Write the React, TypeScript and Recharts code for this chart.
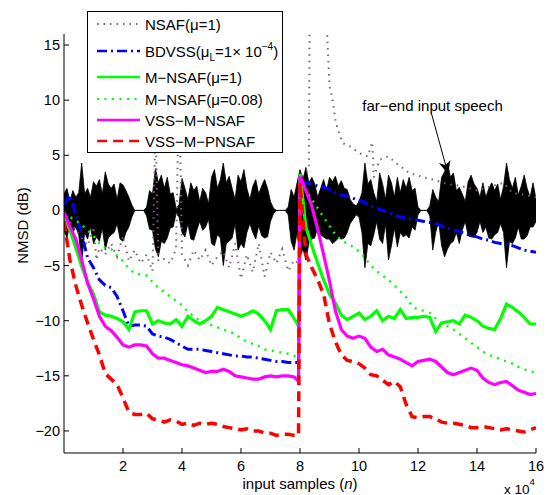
import React from "react"
import { ComposedChart, Line, Area, XAxis, YAxis, ReferenceLine, Legend } from "recharts"

const FONT = '"Liberation Sans", Arial, Helvetica, sans-serif'

// input samples, in units of 10^4 (shared by the adaptive filter curves)
const n = [
  0, 0.2, 0.4, 0.6, 0.8, 1, 1.2, 1.4, 1.6, 1.8, 2, 2.2, 2.4, 2.6, 2.8, 3, 3.2, 3.4, 3.6, 3.8,
  4, 4.2, 4.4, 4.6, 4.8, 5, 5.2, 5.4, 5.6, 5.8, 6, 6.2, 6.4, 6.6, 6.8, 7, 7.2, 7.4, 7.6, 7.8,
  7.95,
  8, 8.2, 8.4, 8.6, 8.8, 9, 9.2, 9.4, 9.6, 9.8, 10, 10.2, 10.4, 10.6, 10.8, 11, 11.2, 11.4, 11.6, 11.8,
  12, 12.2, 12.4, 12.6, 12.8, 13, 13.2, 13.4, 13.6, 13.8, 14, 14.2, 14.4, 14.6, 14.8, 15, 15.2, 15.4, 15.6, 15.8,
  16,
]

// NMSD (dB)
const bdvss = [
  0.5, 1.4, -0.3, -2.2, -4.3, -5.2, -6.3, -6.8, -7.0, -7.8, -9.1, -10.5, -10.4, -10.4, -10.5, -11.2, -11.4, -11.5, -11.7, -12.0,
  -12.3, -12.6, -12.6, -12.6, -12.7, -12.8, -12.9, -13.0, -13.1, -13.2, -13.2, -13.3, -13.3, -13.4, -13.5, -13.6, -13.7, -13.7, -13.8, -13.8,
  -13.8,
  2.6, 2.5, 2.4, 2.2, 2.1, 1.9, 1.6, 1.4, 1.3, 1.1, 0.9, 0.7, 0.4, 0.2, 0.0, -0.2, -0.4, -0.6, -0.7, -0.8,
  -0.9, -1.0, -1.1, -1.2, -1.4, -1.6, -1.8, -1.9, -2.1, -2.3, -2.4, -2.6, -2.7, -2.9, -3.0, -3.1, -3.2, -3.4, -3.6, -3.7,
  -3.8,
]
const mnsaf = [
  -0.5, -1.8, -3.4, -5.1, -6.5, -7.6, -9.2, -9.5, -9.6, -9.8, -10.1, -10.8, -9.2, -9.1, -9.1, -10.3, -10.0, -10.2, -10.3, -9.9,
  -10.5, -9.6, -10.0, -10.3, -10.0, -9.6, -8.8, -9.0, -9.2, -9.4, -9.6, -9.4, -9.1, -9.4, -10.0, -10.8, -9.1, -9.0, -9.0, -9.8,
  -10.5,
  3.3, -1.5, -3.2, -4.8, -6.3, -7.6, -8.4, -9.5, -9.9, -9.6, -9.3, -9.9, -9.6, -9.1, -10.0, -9.6, -9.8, -9.0, -9.8, -9.7,
  -9.7, -9.6, -9.7, -11.0, -10.2, -10.1, -10.0, -10.3, -9.5, -9.7, -10.0, -10.5, -10.7, -10.8, -9.8, -8.5, -8.8, -9.2, -9.7, -10.3,
  -10.3,
]
const mnsafSlow = [
  -0.3, -0.6, -0.9, -1.3, -1.8, -2.3, -3.0, -3.4, -3.5, -4.1, -4.6, -5.3, -5.7, -5.8, -5.9, -6.5, -7.0, -7.4, -7.8, -8.2,
  -8.6, -9.2, -9.6, -10.0, -10.3, -10.4, -10.6, -10.8, -11.0, -11.2, -11.6, -11.9, -12.1, -12.3, -12.6, -12.7, -12.8, -12.9, -13.0, -13.2,
  -13.4,
  2.5, 1.8, 1.0, 0.2, -0.6, -1.4, -2.2, -2.7, -3.0, -3.3, -3.7, -4.3, -5.0, -5.5, -5.9, -6.3, -6.8, -7.3, -7.9, -8.7,
  -9.0, -9.1, -9.3, -9.8, -10.3, -10.5, -10.8, -11.2, -11.6, -12.0, -12.4, -12.8, -13.1, -13.3, -13.5, -13.7, -13.9, -14.2, -14.4, -14.6,
  -14.7,
]
const vssNsaf = [
  -0.2, -1.5, -2.6, -4.5, -6.6, -8.0, -9.6, -10.5, -10.9, -11.5, -12.2, -12.4, -12.2, -12.2, -12.3, -13.0, -13.4, -13.4, -13.6, -13.8,
  -14.0, -14.1, -14.3, -14.5, -14.7, -14.6, -14.6, -14.4, -14.6, -15.0, -15.1, -15.2, -15.3, -15.3, -15.1, -15.0, -15.1, -15.0, -15.0, -15.1,
  -15.5,
  3.1, 1.8, 0.4, -1.7, -4.0, -6.4, -9.1, -10.8, -11.4, -11.6, -11.4, -11.6, -12.4, -12.8, -12.6, -13.1, -13.3, -13.5, -13.8, -14.1,
  -13.7, -13.6, -13.5, -13.7, -14.2, -14.7, -14.9, -14.7, -14.5, -14.3, -14.5, -15.2, -15.6, -15.8, -15.6, -15.5, -15.9, -16.3, -16.5, -16.7,
  -16.6,
]
const vssPnsaf = [
  -1.0, -4.5, -6.8, -8.6, -10.2, -11.7, -13.1, -14.8, -15.3, -15.8, -17.0, -18.3, -18.5, -18.5, -18.4, -18.9, -19.0, -19.2, -19.0, -19.1,
  -19.4, -19.3, -19.5, -19.3, -19.4, -19.3, -19.4, -19.6, -19.7, -19.8, -19.9, -19.8, -20.0, -20.0, -20.2, -20.2, -20.4, -20.3, -20.3, -20.4,
  -20.4,
  2.5, -4.0, -5.2, -6.3, -7.6, -10.3, -11.9, -13.1, -13.6, -13.7, -13.9, -14.3, -14.9, -15.0, -15.4, -15.8, -15.5, -16.0, -17.6, -18.7,
  -18.8, -18.7, -18.7, -18.9, -19.2, -19.3, -19.3, -19.4, -19.5, -19.7, -19.7, -19.6, -19.7, -19.8, -19.9, -19.8, -19.9, -20.0, -20.1, -19.9,
  -19.7,
]

// plain NSAF has its own sample points (it diverges after the echo path change)
const nsafN = [
  0, 0.2, 0.4, 0.6, 0.8, 1, 1.1, 1.2, 1.4, 1.6, 1.8, 2, 2.2, 2.4, 2.6, 2.8, 3, 3.1, 3.2, 3.4, 3.6, 3.8, 3.9,
  4, 4.2, 4.4, 4.6, 4.8, 5, 5.2, 5.4, 5.6, 5.8, 6, 6.2, 6.4, 6.6, 6.8, 7, 7.2, 7.4, 7.6, 7.8, 7.95,
  8, 8.2, 8.3, 8.35, 8.6, 8.85, 9, 9.1, 9.2, 9.3, 9.45, 9.7, 10, 10.3, 10.45, 10.5, 10.7, 11, 11.3, 11.7,
  12.2, 12.5, 13, 13.5, 14, 14.5, 14.9, 15.2, 15.6, 16,
]
const nsaf = [
  0, -1.0, -1.8, -2.5, -3.2, -1.5, -4.5, -3.4, -4.0, -3.0, -4.2, -2.3, -4.6, -3.6, -4.8, -4.0, -5.5, 8.0, -4.6, -4.4, -4.8, -3.5, 12.0,
  -4.0, -5.0, -3.6, -4.5, -3.6, -5.0, -4.2, -3.7, -5.2, -3.0, -6.2, -4.0, -5.6, -3.0, -6.0, -3.8, -4.8, -3.5, -5.5, -4.5, -4.8,
  3.0, 3.4, 3.8, 30, 40, 20, 11.3, 10.1, 8.2, 7.2, 6.1, 5.8, 5.2, 4.9, 6.2, 3.0, 4.6, 4.9, 4.2, 3.4,
  3.0, 2.8, 2.4, 2.2, 1.8, 2.2, 2.5, 1.6, 1.4, 1.2,
]

// far-end speech envelope, every 0.1 x 10^4 samples
const speechHi = [
  1.5, 2.0, 0.8, 1.8, 1.2, 1.6, 4.3, 1.5, 2.0, 1.2, 2.6, 2.2, 2.8, 1.5, 3.5, 2.4, 2.0, 2.4, 1.0, 2.5,
  2.3, 1.8, 1.2, 0.5, 0, 0, 0, 0, 0.3, 1.8, 1.5, 3.8, 2.5, 3.2, 2.0, 3.0, 1.5, 1.6, 0.2, 0.5,
  2.9, 2.0, 1.0, 2.5, 1.8, 2.2, 0.8, 2.0, 1.6, 0.6, 3.0, 3.7, 2.0, 2.8, 4.3, 2.5, 3.1, 2.0, 1.0, 3.2,
  2.6, 3.7, 2.0, 1.0, 2.2, 2.8, 1.5, 2.2, 2.8, 2.0, 0.8, 0.2, 0, 0, 0, 0, 0.3, 1.9, 1.2, 2.5,
  3.7, 2.8, 3.9, 2.5, 3.0, 2.4, 1.2, 2.0, 2.8, 1.8, 3.0, 2.6, 3.1, 2.2, 2.7, 2.0, 1.9, 1.0, 0.6, 0.4,
  0.8, 1.6, 4.3, 2.4, 2.8, 1.6, 0.8, 3.4, 2.4, 1.0, 3.2, 2.5, 1.2, 3.0, 1.6, 2.8, 2.0, 3.0, 1.8, 2.0,
  0.3, 0, 0, 0, 0.4, 1.9, 1.2, 0.8, 3.0, 3.5, 4.3, 3.0, 3.4, 1.8, 2.1, 1.5, 0.8, 2.6, 3.2, 2.4,
  2.0, 1.2, 2.5, 1.2, 2.0, 2.5, 1.8, 2.4, 1.0, 2.2, 4.3, 2.8, 2.0, 3.0, 1.4, 2.2, 3.2, 2.0, 1.2, 2.5,
  1.0,
]
const speechLo = [
  -1.8, -2.5, -1.2, -2.0, -1.5, -2.2, -4.8, -2.0, -2.6, -1.5, -3.0, -2.4, -2.8, -1.6, -3.6, -2.5, -2.2, -2.0, -1.2, -2.6,
  -2.8, -2.0, -1.5, -0.6, 0, 0, 0, 0, -0.5, -1.7, -1.8, -3.5, -4.2, -2.8, -3.0, -2.5, -1.6, -1.5, -0.3, -0.6,
  -2.0, -2.4, -1.2, -2.6, -2.7, -1.8, -1.0, -1.8, -1.5, -0.8, -3.0, -3.2, -2.2, -2.5, -5.0, -3.0, -2.8, -2.5, -1.2, -3.6,
  -3.0, -3.4, -2.0, -1.2, -2.0, -2.6, -1.4, -2.3, -2.5, -2.4, -1.0, -0.3, 0, 0, 0, 0, -0.4, -2.8, -3.6, -2.0,
  -4.2, -3.5, -4.5, -3.0, -2.6, -2.5, -1.5, -2.2, -2.4, -2.6, -2.6, -3.0, -2.8, -2.5, -2.6, -2.5, -2.0, -1.2, -0.8, -0.4,
  -0.6, -2.0, -5.2, -3.0, -3.2, -2.2, -1.0, -2.6, -3.0, -1.2, -4.5, -3.2, -1.6, -3.3, -2.0, -2.4, -2.2, -2.5, -1.5, -1.8,
  -0.4, 0, 0, 0, -0.5, -3.6, -2.0, -1.0, -3.2, -4.2, -3.5, -3.0, -2.8, -2.0, -3.0, -1.8, -1.0, -2.3, -2.4, -2.4,
  -2.0, -1.0, -2.0, -1.5, -2.5, -2.6, -2.2, -2.0, -1.2, -2.0, -5.2, -2.8, -3.0, -2.5, -1.5, -2.6, -2.6, -2.3, -1.5, -1.5,
  -1.0,
]
const speechN = speechHi.map((_, i) => i / 10)

const xTicks = [2, 4, 6, 8, 10, 12, 14, 16]
const yTicks = [-20, -15, -10, -5, 0, 5, 10, 15]

const series = [
  { key: "nsaf", name: "NSAF(μ=1)", color: "#7d5f7d", width: 2, dash: "1.5 5", xs: nsafN, ys: nsaf },
  { key: "bdvss", name: "BDVSS", color: "#0000ff", width: 3, dash: "10 4 2 4", xs: n, ys: bdvss },
  { key: "mnsafSlow", name: "M−NSAF(μ=0.08)", color: "#00ff00", width: 2.4, dash: "2 5.5", xs: n, ys: mnsafSlow },
  { key: "mnsaf", name: "M−NSAF(μ=1)", color: "#00ff00", width: 3.2, dash: undefined, xs: n, ys: mnsaf },
  { key: "vss", name: "VSS−M−NSAF", color: "#ff00ff", width: 3.2, dash: undefined, xs: n, ys: vssNsaf },
  { key: "vssp", name: "VSS−M−PNSAF", color: "#ff0000", width: 3.5, dash: "10 6", xs: n, ys: vssPnsaf },
]

// legend order as in the figure, with row centres
const legendOrder = ["nsaf", "bdvss", "mnsaf", "mnsafSlow", "vss", "vssp"]
const legendRows = [13, 40, 66, 88, 109, 130]

const speechData = speechN.map((v, i) => ({ n: v, env: [speechLo[i], speechHi[i]] }))

const fmt = (v: number) => (v < 0 ? "\u2212" + Math.abs(v) : String(v))

const BottomTick = (p: any) => (
  <g>
    <line x1={p.x} y1={p.y} x2={p.x} y2={p.y - 5} stroke="#000" />
    <text x={p.x} y={p.y + 18} textAnchor="middle" fontSize={14.5} fontFamily={FONT} fill="#000">
      {fmt(p.payload.value)}
    </text>
  </g>
)
const TopTick = (p: any) => <line x1={p.x} y1={p.y} x2={p.x} y2={p.y + 5} stroke="#000" />
const LeftTick = (p: any) => (
  <g>
    <line x1={p.x} y1={p.y} x2={p.x + 5} y2={p.y} stroke="#000" />
    <text x={p.x - 4} y={p.y + 5} textAnchor="end" fontSize={14.5} fontFamily={FONT} fill="#000">
      {fmt(p.payload.value)}
    </text>
  </g>
)
const RightTick = (p: any) => <line x1={p.x} y1={p.y} x2={p.x - 5} y2={p.y} stroke="#000" />

const XLabel = (p: any) => {
  const vb = p.viewBox
  const right = vb.x + vb.width
  return (
    <g fontFamily={FONT} fill="#000">
      <text x={vb.x + vb.width / 2} y={vb.y + 36} textAnchor="middle" fontSize={15}>
        input samples (<tspan fontStyle="italic">n</tspan>)
      </text>
      <text x={right - 32} y={vb.y + 40.5} fontSize={13.5}>
        x 10<tspan dy={-9} fontSize={9.5}>4</tspan>
      </text>
    </g>
  )
}

const YLabel = (p: any) => {
  const vb = p.viewBox
  const cx = vb.x + 22
  const cy = vb.y + vb.height / 2 - 18
  return (
    <text
      x={cx}
      y={cy}
      transform={`rotate(-90, ${cx}, ${cy})`}
      textAnchor="middle"
      dominantBaseline="central"
      fontSize={15}
      fontFamily={FONT}
      fill="#000"
    >
      NMSD (dB)
    </text>
  )
}

const SpeechArrow = (p: any) => {
  const { x1, y1, x2, y2 } = p
  const dx = x2 - x1
  const dy = y2 - y1
  const len = Math.sqrt(dx * dx + dy * dy)
  const ux = dx / len
  const uy = dy / len
  const bx = x2 - ux * 13
  const by = y2 - uy * 13
  const nx = x2 - ux * 9
  const ny = y2 - uy * 9
  const pts = [
    [x2, y2],
    [bx - uy * 6, by + ux * 6],
    [nx, ny],
    [bx + uy * 6, by - ux * 6],
  ]
  return (
    <g>
      <line x1={x1} y1={y1} x2={nx} y2={ny} stroke="#000" strokeWidth={1} />
      <polygon points={pts.map((q) => q.join(",")).join(" ")} fill="#000" />
      <text x={x1 - 69} y={y1 - 2} fontSize={15} fontFamily={FONT} fill="#000">
        far−end input speech
      </text>
    </g>
  )
}

const LegendBox = () => (
  <svg width={196} height={142} style={{ display: "block" }}>
    <rect x={0.5} y={0.5} width={195} height={141} fill="#fff" stroke="#000" strokeWidth={1} />
    {legendOrder.map((k, i) => {
      const s = series.find((d) => d.key === k)!
      const y = legendRows[i]
      return (
        <g key={k}>
          <line
            x1={10}
            y1={y}
            x2={53}
            y2={y}
            stroke={s.color}
            strokeWidth={k === "nsaf" || k === "mnsafSlow" ? 1.8 : 2.6}
            strokeDasharray={s.dash}
          />
          <text x={58} y={y + 5.5} fontSize={15} fontFamily={FONT} fill="#000">
            {k === "bdvss" ? (
              <>
                BDVSS(μ<tspan dy={4} fontSize={10}>L</tspan>
                <tspan dy={-4}>=1× 10</tspan>
                <tspan dy={-7} fontSize={10}>−4</tspan>
                <tspan dy={7}>)</tspan>
              </>
            ) : (
              s.name
            )}
          </text>
        </g>
      )
    })}
  </svg>
)

export default function App() {
  return (
    <div style={{ position: "absolute", left: 0, top: 0, width: 549, height: 495, background: "#fff" }}>
      <ComposedChart width={549} height={495} margin={{ top: 34, right: 13, bottom: 0, left: 0 }}>
        <XAxis
          type="number"
          dataKey="n"
          domain={[0, 16]}
          ticks={xTicks}
          interval={0}
          allowDataOverflow
          height={42}
          tickSize={0}
          tickMargin={0}
          tickLine={false}
          axisLine={{ stroke: "#000" }}
          tick={BottomTick}
          label={{ content: XLabel }}
        />
        <XAxis
          xAxisId="top"
          orientation="top"
          type="number"
          dataKey="n"
          domain={[0, 16]}
          ticks={xTicks}
          interval={0}
          height={0}
          tickSize={0}
          tickMargin={0}
          tickLine={false}
          axisLine={{ stroke: "#000" }}
          tick={TopTick}
        />
        <YAxis
          type="number"
          domain={[-22, 16]}
          ticks={yTicks}
          interval={0}
          allowDataOverflow
          width={64}
          tickSize={0}
          tickMargin={0}
          tickLine={false}
          axisLine={{ stroke: "#000" }}
          tick={LeftTick}
          label={{ content: YLabel }}
        />
        <YAxis
          yAxisId="right"
          orientation="right"
          type="number"
          domain={[-22, 16]}
          ticks={yTicks}
          interval={0}
          width={0}
          tickSize={0}
          tickMargin={0}
          tickLine={false}
          axisLine={{ stroke: "#000" }}
          tick={RightTick}
        />
        <Area
          data={speechData}
          dataKey="env"
          type="linear"
          fill="#000"
          fillOpacity={1}
          stroke="#000"
          strokeWidth={0.8}
          isAnimationActive={false}
          dot={false}
          activeDot={false}
          legendType="none"
        />
        {series.map((s) => (
          <Line
            key={s.key}
            name={s.name}
            data={s.xs.map((x, i) => ({ n: x, v: s.ys[i] }))}
            dataKey="v"
            type="linear"
            stroke={s.color}
            strokeWidth={s.width}
            strokeDasharray={s.dash}
            dot={false}
            activeDot={false}
            isAnimationActive={false}
          />
        ))}
        <ReferenceLine
          segment={[
            { x: 12.45, y: 8.85 },
            { x: 13.02, y: 3.3 },
          ]}
          ifOverflow="visible"
          shape={SpeechArrow}
        />
        <Legend
          layout="vertical"
          align="center"
          verticalAlign="middle"
          wrapperStyle={{ left: 87, top: 11, width: 196, height: 142 }}
          content={LegendBox}
        />
      </ComposedChart>
    </div>
  )
}
